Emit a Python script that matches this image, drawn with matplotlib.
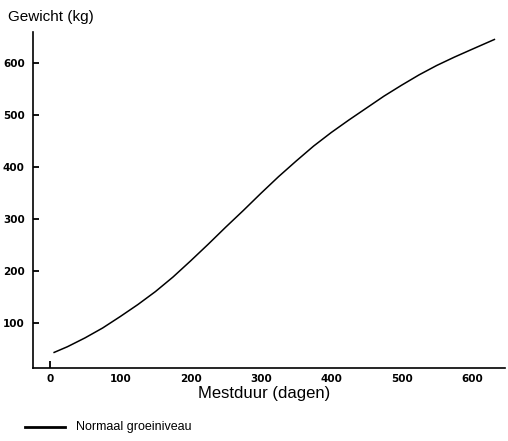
import matplotlib.pyplot as plt
from matplotlib.lines import Line2D

dagen = [6, 25, 50, 75, 100, 125, 150, 175, 200, 225, 250, 275, 300, 325,
         350, 375, 400, 425, 450, 475, 500, 525, 550, 575, 600, 632]
gewicht = [44, 55, 72, 91, 113, 136, 161, 189, 220, 252, 285, 317, 350, 382,
           412, 441, 467, 491, 514, 537, 558, 578, 596, 612, 627, 646]

x_ticks = [0, 100, 200, 300, 400, 500, 600]
y_ticks = [100, 200, 300, 400, 500, 600]

fig = plt.figure(figsize=(5.08, 4.41), dpi=100)
ax = fig.add_axes([0.065, 0.1655, 0.929, 0.7615])

ax.plot(dagen, gewicht, color='black', lw=1.1)

ax.set_xlim(-24, 647)
ax.set_ylim(14, 660)
ax.set_xticks(x_ticks)
ax.set_yticks(y_ticks)
ax.spines['top'].set_visible(False)
ax.spines['right'].set_visible(False)
ax.spines['left'].set_linewidth(1.2)
ax.spines['bottom'].set_linewidth(1.2)

ax.tick_params(axis='y', direction='in', length=4, width=1.3, pad=6)
ax.tick_params(axis='x', direction='in', length=5, width=1.3, pad=4)
for t in ax.xaxis.get_major_ticks()[1:]:
    t.tick1line.set_visible(False)
for lab in ax.get_xticklabels() + ax.get_yticklabels():
    lab.set_fontsize(7.5)
    lab.set_fontweight('bold')
    lab.set_family('DejaVu Sans')

fig.text(0.016, 0.962, "Gewicht (kg)", fontsize=11, family='Liberation Sans', va='center')
fig.text(0.52, 0.108, "Mestduur (dagen)", fontsize=12, family='Liberation Sans', ha='center', va='center')

# legenda
fig.add_artist(Line2D([0.05, 0.128], [0.032, 0.032], color='black', lw=2))
fig.text(0.15, 0.032, "Normaal groeiniveau", fontsize=9, family='Liberation Sans', va='center')

plt.savefig("out.png", dpi=100)
